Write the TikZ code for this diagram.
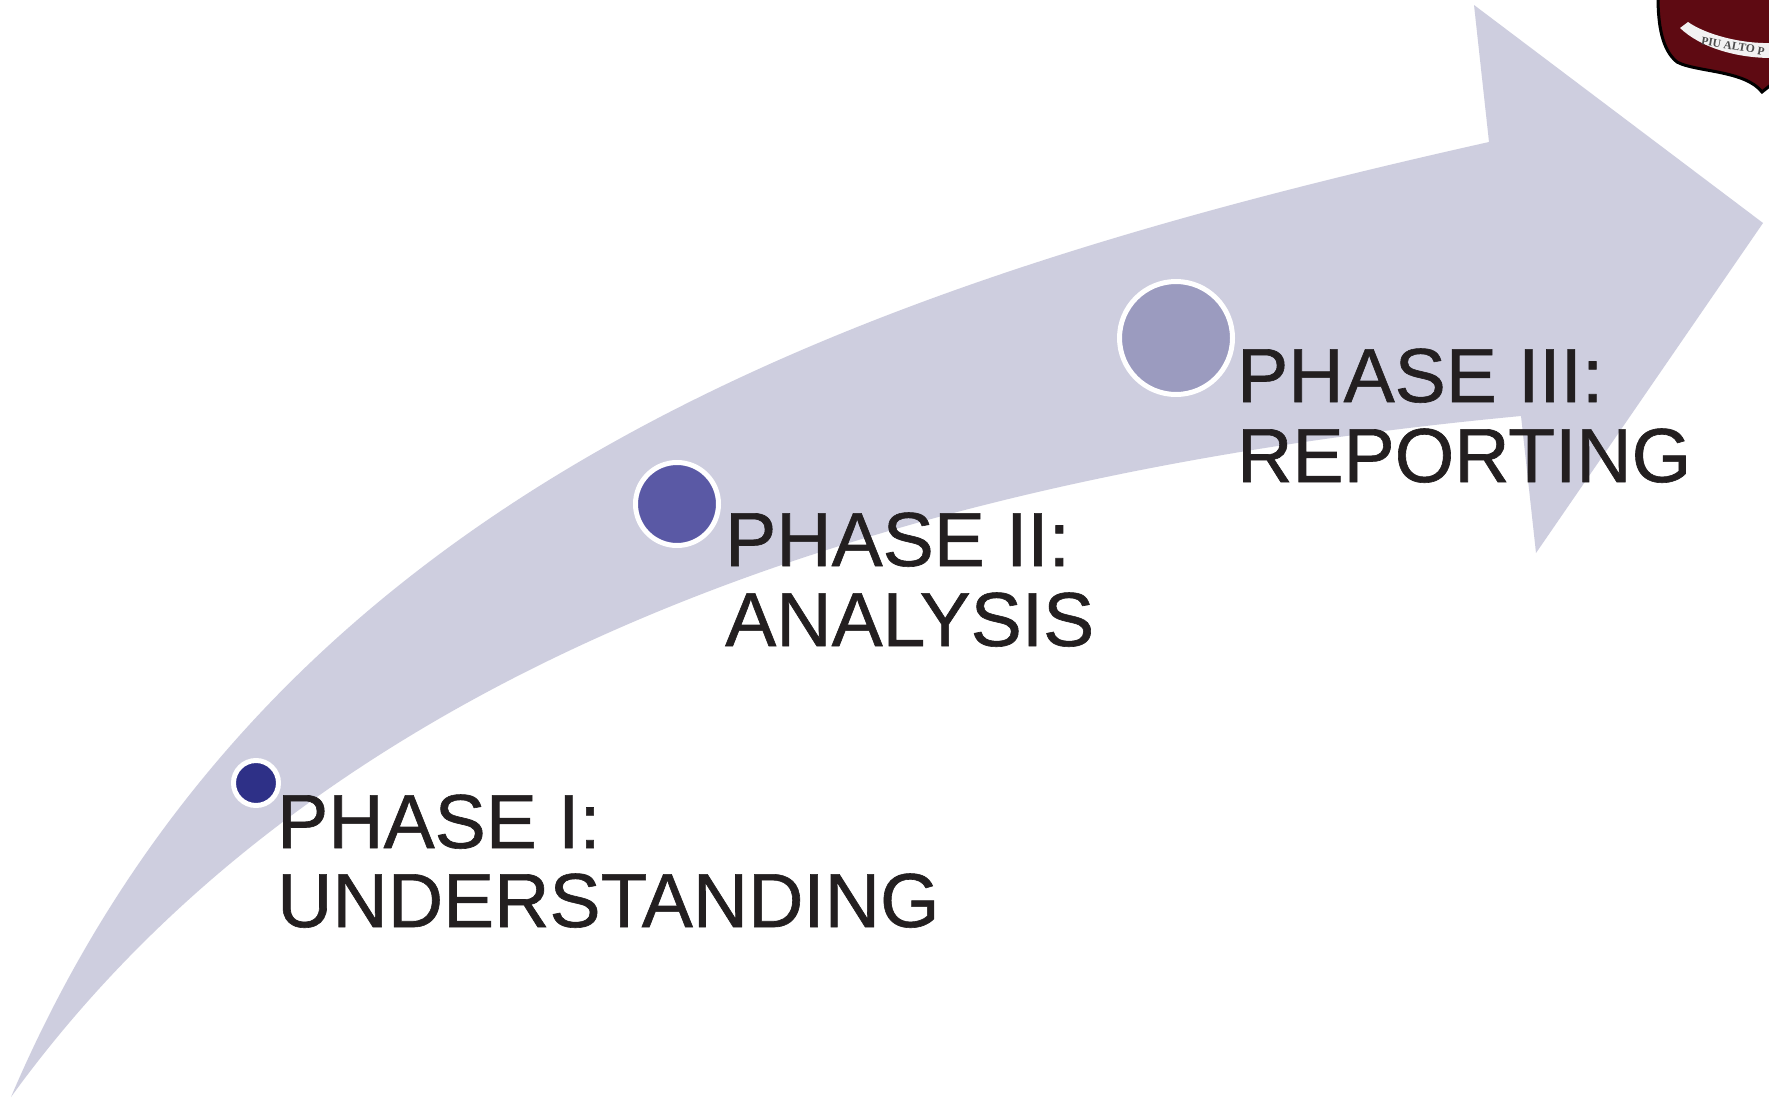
\documentclass[tikz,border=0pt]{standalone}
\usepackage{fontspec}
\setmainfont{Liberation Sans}
\newfontfamily\labelfont[RawFeature={embolden=0.8}]{Liberation Sans}
\newfontfamily\crestfont{Liberation Serif}
\tikzset{
  phase/.style={anchor=base west,align=left,inner sep=0pt,text=txt,font=\labelfont\fontsize{76.6}{80}\selectfont},
  dot/.style={circle,draw=white,line width=5pt,inner sep=0pt}
}
\definecolor{arrowc}{HTML}{CECEDF}
\definecolor{txt}{HTML}{231F20}
\definecolor{c1}{HTML}{2E3087}
\definecolor{c2}{HTML}{5A59A5}
\definecolor{c3}{HTML}{9B9BBF}
\definecolor{maroon}{HTML}{5E0A12}
\begin{document}
\begin{tikzpicture}[x=1pt,y=-1pt]
\useasboundingbox (0,0) rectangle (1769,1100);
\fill[white] (0,0) rectangle (1769,1100);
% crest
\fill[maroon,draw=black,line width=3pt] (1658,-3) .. controls (1658,25) and (1662,50) .. (1677,62) .. controls (1695,72) and (1745,70) .. (1762,92) -- (1772,84) -- (1772,-3) -- cycle;
\fill[white!90!gray] (1680,28) -- (1688,22) .. controls (1705,34) and (1740,44) .. (1772,43) -- (1772,58) .. controls (1735,58) and (1700,47) .. (1680,28) -- cycle;
\node[rotate=-10,inner sep=0pt,font=\crestfont\bfseries\fontsize{11.5}{12}\selectfont,text=black!70] (motto) at (1733,46) {PIU ALTO P};
% arrow
\fill[arrowc] (11,1097) .. controls (270,490) and (850,285) .. (1489,142)
  -- (1474,5) -- (1763,223) -- (1536,553) -- (1521,416)
  .. controls (1000,465) and (360,615) .. (11,1097) -- cycle;
% dots
\node[dot,fill=c1,minimum size=45pt] (d1) at (256,783) {};
\node[dot,fill=c2,minimum size=83pt] (d2) at (677,504) {};
\node[dot,fill=c3,minimum size=113pt] (d3) at (1176,338) {};
% labels
\node[phase] (l1) at (277,848) {PHASE I:};
\node[phase] (l1b) at (277,927) {UNDERSTANDING};
\node[phase] (l2) at (725,566) {PHASE II:};
\node[phase] (l2b) at (725,646) {ANALYSIS};
\node[phase] (l3) at (1237,402) {PHASE III:};
\node[phase] (l3b) at (1237,482) {REPORTING};
\end{tikzpicture}
\end{document}
